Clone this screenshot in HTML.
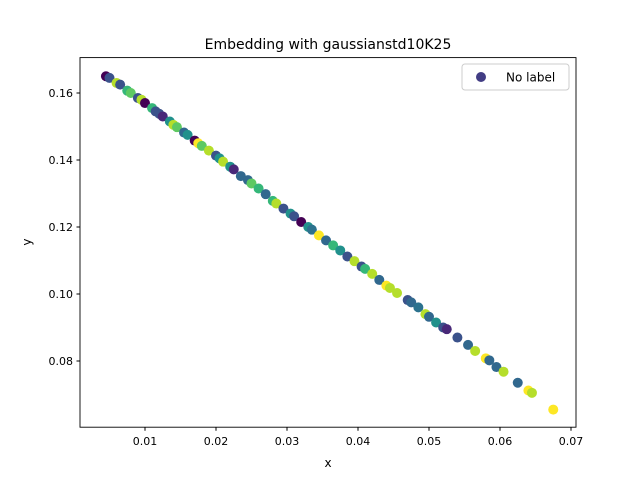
<!DOCTYPE html>
<html><head><meta charset="utf-8"><style>
body{margin:0;background:#fff;width:640px;height:480px;overflow:hidden}
svg{display:block;font-family:"DejaVu Sans","Liberation Sans",sans-serif}
</style></head><body>
<svg id="chart" width="640" height="480">
<rect width="640" height="480" fill="#fff"/>
<text x="328" y="49" font-size="14" text-anchor="middle">Embedding with gaussianstd10K25</text>
<g id="pts"></g>
<rect x="80" y="57.6" width="496" height="369.6" fill="none" stroke="#000" stroke-width="0.9"/>
<g id="xt"></g>
<g id="yt"></g>
<text x="328" y="467" font-size="12" text-anchor="middle">x</text>
<text x="31" y="242" font-size="12" text-anchor="middle" transform="rotate(-90 31 242)">y</text>
<g>
<rect x="462" y="64" width="107" height="26" rx="3" fill="#fff" stroke="#ccc"/>
<circle cx="481" cy="77" r="5" fill="#423d84"/>
<text x="506" y="81.5" font-size="12">No label</text>
</g>
</svg>
<script>
const xs=[0.0045,0.0050,0.0060,0.0065,0.0075,0.0080,0.0090,0.0095,0.0100,0.0110,0.0115,0.0120,0.0125,0.0135,0.0140,0.0145,0.0155,0.0160,0.0170,0.0175,0.0180,0.0190,0.0200,0.0205,0.0210,0.0220,0.0225,0.0235,0.0245,0.0250,0.0260,0.0270,0.0280,0.0285,0.0295,0.0305,0.0310,0.0320,0.0330,0.0335,0.0345,0.0355,0.0365,0.0375,0.0385,0.0395,0.0405,0.0410,0.0420,0.0430,0.0440,0.0445,0.0455,0.0470,0.0475,0.0485,0.0495,0.0500,0.0510,0.0520,0.0525,0.0540,0.0555,0.0565,0.0580,0.0585,0.0595,0.0605,0.0625,0.0640,0.0645,0.0675];
const ys=[0.1650,0.1645,0.1630,0.1625,0.1607,0.1600,0.1585,0.1580,0.1570,0.1555,0.1545,0.1538,0.1530,0.1515,0.1505,0.1498,0.1482,0.1475,0.1458,0.1450,0.1442,0.1428,0.1413,0.1405,0.1395,0.1380,0.1372,0.1352,0.1340,0.1330,0.1315,0.1298,0.1278,0.1270,0.1255,0.1240,0.1232,0.1215,0.1200,0.1192,0.1175,0.1160,0.1145,0.1130,0.1112,0.1098,0.1082,0.1075,0.1060,0.1042,0.1025,0.1018,0.1003,0.0982,0.0975,0.0960,0.0940,0.0932,0.0915,0.0900,0.0895,0.0870,0.0848,0.0830,0.0808,0.0802,0.0782,0.0768,0.0735,0.0712,0.0705,0.0655];
const colors=["#440154","#3b528b","#b5de2b","#3b528b","#35b779","#5ec962","#3b528b","#b5de2b","#440154","#35b779","#3b528b","#3b528b","#482878","#21918c","#b5de2b","#5ec962","#31688e","#21918c","#440154","#fde725","#5ec962","#b5de2b","#3b528b","#21918c","#b5de2b","#21918c","#482878","#31688e","#31688e","#5ec962","#35b779","#31688e","#35b779","#b5de2b","#3b528b","#21918c","#3b528b","#440154","#21918c","#2c728e","#fde725","#31688e","#35b779","#21918c","#3b528b","#b5de2b","#3b528b","#35b779","#b5de2b","#31688e","#fde725","#b5de2b","#b5de2b","#3b528b","#31688e","#2c728e","#b5de2b","#31688e","#21918c","#3b528b","#482878","#3b528b","#31688e","#b5de2b","#fde725","#31688e","#31688e","#b5de2b","#31688e","#fde725","#b5de2b","#fde725"];
const xTicks=[0.01,0.02,0.03,0.04,0.05,0.06,0.07];
const yTicks=[0.08,0.10,0.12,0.14,0.16];
const NS="http://www.w3.org/2000/svg";
function sx(v){return 74+v*7100;}
function sy(v){return 93+(0.16-v)*3350;}
const pts=document.getElementById('pts');
for(let i=0;i<xs.length;i++){
 const c=document.createElementNS(NS,'circle');
 c.setAttribute('cx',sx(xs[i]));c.setAttribute('cy',sy(ys[i]));c.setAttribute('r',5);
 c.setAttribute('fill',colors[i]);
 
 
 pts.appendChild(c);
}
const xt=document.getElementById('xt');
xTicks.forEach(t=>{
 const x=sx(t);
 const l=document.createElementNS(NS,'line');
 l.setAttribute('x1',x);l.setAttribute('x2',x);l.setAttribute('y1',427.2);l.setAttribute('y2',430.7);l.setAttribute('stroke','#000');
 
 
 xt.appendChild(l);
 const s=document.createElementNS(NS,'text');
 s.setAttribute('x',x);s.setAttribute('y',445);s.setAttribute('font-size','11');s.setAttribute('text-anchor','middle');
 s.textContent=t.toFixed(2);
 
 
 xt.appendChild(s);
});
const yt=document.getElementById('yt');
yTicks.forEach(t=>{
 const y=sy(t);
 const l=document.createElementNS(NS,'line');
 l.setAttribute('x1',76.5);l.setAttribute('x2',80);l.setAttribute('y1',y);l.setAttribute('y2',y);l.setAttribute('stroke','#000');
 
 
 yt.appendChild(l);
 const s=document.createElementNS(NS,'text');
 s.setAttribute('x',73);s.setAttribute('y',y+4);s.setAttribute('font-size','11');s.setAttribute('text-anchor','end');
 s.textContent=t.toFixed(2);
 
 
 yt.appendChild(s);
});
</script>
</body></html>
